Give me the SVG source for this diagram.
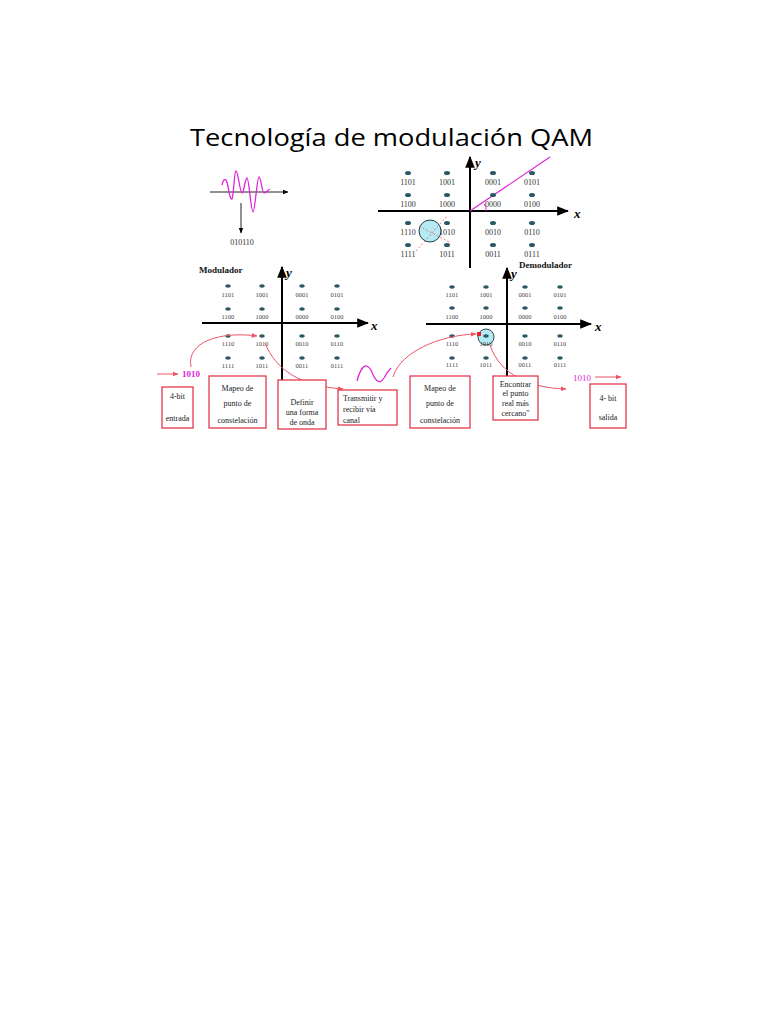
<svg xmlns="http://www.w3.org/2000/svg" width="768" height="1024" viewBox="0 0 768 1024">
<defs>
<style>
.dot{fill:#2b5864}
.l7{font-family:"Liberation Serif",serif;font-size:6.5px;fill:#444;text-anchor:middle}
.l8{font-family:"Liberation Serif",serif;font-size:8px;fill:#333;text-anchor:middle}
.ax{stroke:#000;stroke-width:2;fill:none}
.box{fill:#fff;stroke:#e2394d;stroke-width:1.3}
.bt{font-family:"Liberation Serif",serif;font-size:8px;fill:#222;text-anchor:middle}
.bts{font-family:"Liberation Serif",serif;font-size:8px;fill:#222;text-anchor:start}
.arr{fill:none;stroke:#ef5567;stroke-width:1}
.mag{fill:none;stroke:#e024d8;stroke-width:1.3}
.hd{font-family:"Liberation Serif",serif;font-weight:bold;font-size:9px;fill:#111}
.axl{font-family:"Liberation Serif",serif;font-weight:bold;font-style:italic;font-size:13px;fill:#000}
</style>
<marker id="ka" viewBox="0 0 10 10" refX="9" refY="5" markerWidth="6" markerHeight="6" orient="auto"><path d="M0,1 L10,5 L0,9 z" fill="#000"/></marker>
<marker id="ra" viewBox="0 0 10 10" refX="9" refY="5" markerWidth="6" markerHeight="6" orient="auto"><path d="M0,1 L10,5 L0,9 z" fill="#ef5567"/></marker>
</defs>
<rect width="768" height="1024" fill="#fff"/>
<text x="190" y="146" font-family="Open Sans,Liberation Sans,sans-serif" font-size="24" textLength="403" lengthAdjust="spacingAndGlyphs" fill="#000">Tecnología de modulación QAM</text>

<g id="waveform">
<line x1="210" y1="192" x2="288" y2="192" stroke="#222" stroke-width="1" marker-end="url(#ka)"/>
<path class="mag" d="M222,185 C223,180 225,177 227,182 C229,190 230,200 232,199 C234,195 234,171 236,171 C238,171 240,193 242,193 C244,193 245,178 247,178 C249,178 251,212 253,212 C255,212 257,177 259,177 C261,177 262,193 264,193 C266,193 268,190 270,189"/>
<line x1="241" y1="203" x2="241" y2="233" stroke="#222" stroke-width="1" marker-end="url(#ka)"/>
<text class="l8" x="242" y="245" font-size="9">010110</text>
</g>

<g id="constellation-top">
<line class="ax" x1="470" y1="268" x2="470" y2="157" marker-end="url(#ka)"/>
<line class="ax" x1="378" y1="211" x2="568" y2="211" marker-end="url(#ka)"/>
<text class="axl" x="475" y="167">y</text>
<text class="axl" x="574" y="218">x</text>
<line x1="470" y1="211" x2="550" y2="157" stroke="#e024d8" stroke-width="1.2"/>
<path d="M484,204 Q487,207 486,211" fill="none" stroke="#e024d8" stroke-width="1"/>
<g class="dot">
<ellipse cx="408" cy="173" rx="3" ry="2"/><ellipse cx="447" cy="173" rx="3" ry="2"/><ellipse cx="493" cy="173" rx="3" ry="2"/><ellipse cx="532" cy="173" rx="3" ry="2"/>
<ellipse cx="408" cy="195" rx="3" ry="2"/><ellipse cx="447" cy="195" rx="3" ry="2"/><ellipse cx="493" cy="195" rx="3" ry="2"/><ellipse cx="532" cy="195" rx="3" ry="2"/>
<ellipse cx="408" cy="223" rx="3" ry="2"/><ellipse cx="447" cy="223" rx="3" ry="2"/><ellipse cx="493" cy="223" rx="3" ry="2"/><ellipse cx="532" cy="223" rx="3" ry="2"/>
<ellipse cx="408" cy="245" rx="3" ry="2"/><ellipse cx="447" cy="245" rx="3" ry="2"/><ellipse cx="493" cy="245" rx="3" ry="2"/><ellipse cx="532" cy="245" rx="3" ry="2"/>
</g>
<text class="l8" x="408" y="185">1101</text><text class="l8" x="447" y="185">1001</text><text class="l8" x="493" y="185">0001</text><text class="l8" x="532" y="185">0101</text>
<text class="l8" x="408" y="207">1100</text><text class="l8" x="447" y="207">1000</text><text class="l8" x="493" y="207">0000</text><text class="l8" x="532" y="207">0100</text>
<text class="l8" x="408" y="235">1110</text><text class="l8" x="447" y="235">1010</text><text class="l8" x="493" y="235">0010</text><text class="l8" x="532" y="235">0110</text>
<text class="l8" x="408" y="257">1111</text><text class="l8" x="447" y="257">1011</text><text class="l8" x="493" y="257">0011</text><text class="l8" x="532" y="257">0111</text>
<circle cx="430" cy="231" r="11" fill="#b4eaf3" stroke="#2a3a40" stroke-width="1"/>
<line x1="416" y1="251" x2="447" y2="216" stroke="#ef5567" stroke-width="0.8" stroke-dasharray="2,2"/>
<line x1="419" y1="226" x2="449" y2="242" stroke="#ef5567" stroke-width="0.8" stroke-dasharray="2,2"/>
</g>

<g id="modulador">
<text class="hd" x="199" y="273">Modulador</text>
<line class="ax" x1="282" y1="380" x2="282" y2="267" marker-end="url(#ka)"/>
<line class="ax" x1="202" y1="323" x2="368" y2="323" marker-end="url(#ka)"/>
<text class="axl" x="286" y="277">y</text>
<text class="axl" x="371" y="330">x</text>
<g class="dot">
<ellipse cx="228" cy="286" rx="2.8" ry="1.8"/><ellipse cx="262" cy="286" rx="2.8" ry="1.8"/><ellipse cx="302" cy="286" rx="2.8" ry="1.8"/><ellipse cx="337" cy="286" rx="2.8" ry="1.8"/>
<ellipse cx="228" cy="309" rx="2.8" ry="1.8"/><ellipse cx="262" cy="309" rx="2.8" ry="1.8"/><ellipse cx="302" cy="309" rx="2.8" ry="1.8"/><ellipse cx="337" cy="309" rx="2.8" ry="1.8"/>
<ellipse cx="228" cy="336" rx="2.8" ry="1.8"/><ellipse cx="262" cy="336" rx="2.8" ry="1.8"/><ellipse cx="302" cy="336" rx="2.8" ry="1.8"/><ellipse cx="337" cy="336" rx="2.8" ry="1.8"/>
<ellipse cx="228" cy="358" rx="2.8" ry="1.8"/><ellipse cx="262" cy="358" rx="2.8" ry="1.8"/><ellipse cx="302" cy="358" rx="2.8" ry="1.8"/><ellipse cx="337" cy="358" rx="2.8" ry="1.8"/>
</g>
<text class="l7" x="228" y="297">1101</text><text class="l7" x="262" y="297">1001</text><text class="l7" x="302" y="297">0001</text><text class="l7" x="337" y="297">0101</text>
<text class="l7" x="228" y="319">1100</text><text class="l7" x="262" y="319">1000</text><text class="l7" x="302" y="319">0000</text><text class="l7" x="337" y="319">0100</text>
<text class="l7" x="228" y="346">1110</text><text class="l7" x="262" y="346">1010</text><text class="l7" x="302" y="346">0010</text><text class="l7" x="337" y="346">0110</text>
<text class="l7" x="228" y="368">1111</text><text class="l7" x="262" y="368">1011</text><text class="l7" x="302" y="368">0011</text><text class="l7" x="337" y="368">0111</text>
</g>

<g id="demodulador">
<text class="hd" x="519" y="268">Demodulador</text>
<line class="ax" x1="507" y1="378" x2="507" y2="268" marker-end="url(#ka)"/>
<line class="ax" x1="426" y1="324" x2="591" y2="324" marker-end="url(#ka)"/>
<text class="axl" x="511" y="278">y</text>
<text class="axl" x="595" y="331">x</text>
<circle cx="486" cy="337" r="8" fill="#b4eaf3" stroke="#3a4a50" stroke-width="1"/>
<g class="dot">
<ellipse cx="452" cy="287" rx="2.8" ry="1.8"/><ellipse cx="486" cy="287" rx="2.8" ry="1.8"/><ellipse cx="525" cy="287" rx="2.8" ry="1.8"/><ellipse cx="560" cy="287" rx="2.8" ry="1.8"/>
<ellipse cx="452" cy="308" rx="2.8" ry="1.8"/><ellipse cx="486" cy="308" rx="2.8" ry="1.8"/><ellipse cx="525" cy="308" rx="2.8" ry="1.8"/><ellipse cx="560" cy="308" rx="2.8" ry="1.8"/>
<ellipse cx="452" cy="336" rx="2.8" ry="1.8"/><ellipse cx="486" cy="336" rx="2.8" ry="1.8"/><ellipse cx="525" cy="336" rx="2.8" ry="1.8"/><ellipse cx="560" cy="336" rx="2.8" ry="1.8"/>
<ellipse cx="452" cy="358" rx="2.8" ry="1.8"/><ellipse cx="486" cy="358" rx="2.8" ry="1.8"/><ellipse cx="525" cy="358" rx="2.8" ry="1.8"/><ellipse cx="560" cy="358" rx="2.8" ry="1.8"/>
</g>
<rect x="477" y="332" width="4" height="4" fill="#e8202c"/>
<text class="l7" x="452" y="297">1101</text><text class="l7" x="486" y="297">1001</text><text class="l7" x="525" y="297">0001</text><text class="l7" x="560" y="297">0101</text>
<text class="l7" x="452" y="319">1100</text><text class="l7" x="486" y="319">1000</text><text class="l7" x="525" y="319">0000</text><text class="l7" x="560" y="319">0100</text>
<text class="l7" x="452" y="346">1110</text><text class="l7" x="486" y="346">1010</text><text class="l7" x="525" y="346">0010</text><text class="l7" x="560" y="346">0110</text>
<text class="l7" x="452" y="367">1111</text><text class="l7" x="486" y="367">1011</text><text class="l7" x="525" y="367">0011</text><text class="l7" x="560" y="367">0111</text>
</g>

<g id="connectors">
<line class="arr" x1="157" y1="374" x2="178" y2="374" marker-end="url(#ra)"/>
<path class="arr" d="M191,367 C186,342 220,331 257,336" marker-end="url(#ra)"/>
<path class="arr" d="M265,343 C276,370 300,386 343,389" marker-end="url(#ra)"/>
<path class="mag" d="M357,381 C361,366 366,362 371,370 C375,380 379,386 384,378 C386,374 388,371 391,368"/>
<path class="arr" d="M393,377 C400,352 440,335 476,334" marker-end="url(#ra)"/>
<path class="arr" d="M490,345 C500,375 530,388 566,389" marker-end="url(#ra)"/>
<line class="arr" x1="595" y1="377" x2="621" y2="377" marker-end="url(#ra)"/>
</g>
<text x="182" y="377" font-family="Liberation Serif,serif" font-size="9" font-weight="bold" fill="#e024d8">1010</text>
<text x="573" y="381" font-family="Liberation Serif,serif" font-size="9" fill="#e024d8">1010</text>

<g id="n-entrada"><rect class="box" x="162" y="387" width="31" height="41"/><text class="bt" x="177.5" y="399">4-bit</text><text class="bt" x="177.5" y="421">entrada</text></g>
<g id="n-mapeo1"><rect class="box" x="209" y="376" width="57" height="52"/><text class="bt" x="237.5" y="391">Mapeo de</text><text class="bt" x="237.5" y="406">punto de</text><text class="bt" x="237.5" y="423">constelación</text></g>
<g id="n-definir"><rect class="box" x="278" y="380" width="48" height="49"/><text class="bt" x="302" y="405">Definir</text><text class="bt" x="302" y="415">una forma</text><text class="bt" x="302" y="425">de onda</text></g>
<g id="n-transmitir"><rect class="box" x="338" y="390" width="59" height="35"/><text class="bts" x="343" y="401">Transmitir  y</text><text class="bts" x="343" y="412">recibir  vía</text><text class="bts" x="343" y="423">canal</text></g>
<g id="n-mapeo2"><rect class="box" x="410" y="376" width="60" height="52"/><text class="bt" x="440" y="391">Mapeo de</text><text class="bt" x="440" y="406">punto de</text><text class="bt" x="440" y="423">constelación</text></g>
<g id="n-encontrar"><rect class="box" x="493" y="376" width="45" height="44"/><text class="bt" x="515.5" y="387">Encontrar</text><text class="bt" x="515.5" y="396">el punto</text><text class="bt" x="515.5" y="406">real más</text><text class="bt" x="515.5" y="416">cercano"</text></g>
<g id="n-salida"><rect class="box" x="590" y="384" width="36" height="44"/><text class="bt" x="608" y="401">4- bit</text><text class="bt" x="608" y="420">salida</text></g>
</svg>
